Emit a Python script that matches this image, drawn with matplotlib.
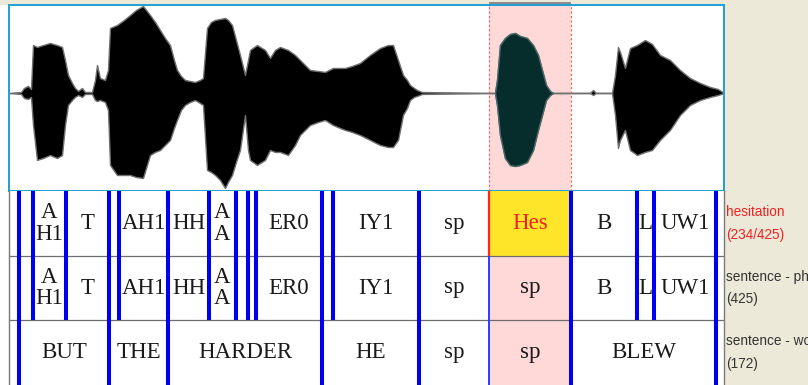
import matplotlib.pyplot as plt
from matplotlib.patches import Rectangle
from matplotlib import transforms

# waveform envelope (seconds, normalised amplitude)
wave_t = [0.000, 0.048, 0.060, 0.076, 0.088, 0.096, 0.112, 0.136, 0.164, 0.192,
          0.212, 0.224, 0.236, 0.252, 0.264, 0.276, 0.292, 0.304, 0.332, 0.344,
          0.352, 0.364, 0.384, 0.396, 0.404, 0.432, 0.460, 0.484, 0.508, 0.536,
          0.564, 0.584, 0.604, 0.624, 0.644, 0.660, 0.672, 0.688, 0.704, 0.724,
          0.744, 0.764, 0.776, 0.792, 0.808, 0.824, 0.844, 0.864, 0.876, 0.892,
          0.908, 0.924, 0.944, 0.956, 0.964, 0.992, 1.024, 1.044, 1.064, 1.084,
          1.116, 1.144, 1.164, 1.184, 1.204, 1.236, 1.264, 1.296, 1.324, 1.344,
          1.372, 1.404, 1.444, 1.484, 1.516, 1.536, 1.556, 1.576, 1.592, 1.604,
          1.620, 1.632, 1.652, 1.944, 1.952, 1.964, 1.984, 2.004, 2.024, 2.044,
          2.072, 2.096, 2.116, 2.132, 2.148, 2.164, 2.176, 2.324, 2.336, 2.348,
          2.412, 2.424, 2.436, 2.444, 2.464, 2.484, 2.512, 2.544, 2.572, 2.604,
          2.644, 2.684, 2.724, 2.764, 2.804, 2.836, 2.860]
wave_hi = [0.000, 0.011, 0.057, 0.080, 0.045, 0.545, 0.523, 0.545, 0.568, 0.545,
           0.523, 0.375, 0.205, 0.114, 0.057, 0.023, 0.057, 0.011, 0.011, 0.148,
           0.318, 0.170, 0.148, 0.261, 0.739, 0.773, 0.830, 0.886, 0.943, 0.989,
           0.886, 0.807, 0.716, 0.625, 0.545, 0.375, 0.261, 0.193, 0.148, 0.136,
           0.125, 0.148, 0.170, 0.739, 0.807, 0.830, 0.841, 0.852, 0.830, 0.773,
           0.602, 0.432, 0.205, 0.375, 0.489, 0.545, 0.489, 0.398, 0.489, 0.523,
           0.489, 0.432, 0.375, 0.318, 0.261, 0.250, 0.239, 0.284, 0.284, 0.284,
           0.307, 0.341, 0.432, 0.511, 0.545, 0.545, 0.375, 0.205, 0.148, 0.091,
           0.057, 0.034, 0.011, 0.000, 0.148, 0.545, 0.625, 0.670, 0.682, 0.648,
           0.625, 0.545, 0.432, 0.261, 0.091, 0.023, 0.000, 0.000, 0.034, 0.000,
           0.000, 0.205, 0.523, 0.466, 0.284, 0.511, 0.545, 0.602, 0.557, 0.432,
           0.375, 0.261, 0.170, 0.114, 0.068, 0.045, 0.000]
wave_lo = [0.000, -0.011, -0.057, -0.068, -0.045, -0.364, -0.761, -0.739, -0.705, -0.739,
           -0.705, -0.364, -0.136, -0.080, -0.045, -0.023, -0.045, -0.011, -0.011, -0.080,
           -0.091, -0.080, -0.102, -0.193, -0.818, -0.932, -0.932, -0.932, -0.955, -0.966,
           -0.705, -0.670, -0.648, -0.591, -0.534, -0.398, -0.307, -0.193, -0.136, -0.102,
           -0.080, -0.114, -0.136, -0.875, -0.898, -0.932, -0.989, -1.080, -1.011, -0.932,
           -0.784, -0.648, -0.250, -0.648, -0.761, -0.818, -0.761, -0.648, -0.670, -0.670,
           -0.705, -0.591, -0.477, -0.420, -0.364, -0.330, -0.307, -0.364, -0.398, -0.420,
           -0.443, -0.477, -0.534, -0.591, -0.614, -0.614, -0.534, -0.250, -0.170, -0.080,
           -0.045, -0.034, -0.011, 0.000, -0.136, -0.477, -0.739, -0.818, -0.830, -0.818,
           -0.784, -0.648, -0.420, -0.250, -0.080, -0.023, 0.000, 0.000, -0.023, 0.000,
           0.000, -0.250, -0.625, -0.534, -0.420, -0.648, -0.705, -0.670, -0.648, -0.534,
           -0.420, -0.250, -0.136, -0.080, -0.045, -0.023, 0.000]
duration = 2.860

# phone segmentation (boundaries in seconds, one label per interval)
phone_bounds = [0.040, 0.096, 0.228, 0.400, 0.440, 0.636, 0.800, 0.908, 0.956,
                0.988, 1.252, 1.296, 1.640, 1.920, 2.248, 2.512, 2.580, 2.828]
phone_labels = ['', 'A\nH1', 'T', '', 'AH1', 'HH', 'A\nA', '', '',
                'ER0', '', 'IY1', 'sp', 'sp', 'B', 'L', 'UW1']

# word segmentation
word_bounds = [0.040, 0.400, 0.636, 1.252, 1.640, 1.920, 2.248, 2.828]
word_labels = ['BUT', 'THE', 'HARDER', 'HE', 'sp', 'sp', 'BLEW']

# selected hesitation interval
hes_start, hes_end = 1.920, 2.248
hes_label = 'Hes'

tier_names = ['hesitation', 'sentence - phone', 'sentence - word']
tier_counts = ['(234/425)', '(425)', '(172)']

W, H = 808, 385
BEIGE = '#ECE9D8'
PINK = '#FFD8D8'
YELLOW = '#FFE52A'
BLUE = '#0000F0'
TEAL = '#1E9FD6'
RED = '#EE2222'

fig = plt.figure(figsize=(W / 100, H / 100), dpi=100, facecolor=BEIGE)
fig.patches.append(Rectangle((0, 0), 9 / W, 380 / H, transform=fig.transFigure,
                             facecolor='white', edgecolor='none', zorder=-5))


def px_axes(left, top, right, bottom):
    return fig.add_axes([left / W, 1 - bottom / H, (right - left) / W, (bottom - top) / H])


# ---- waveform panel ----
ax_w = px_axes(9, 5, 724, 191)
ax_w.set_xlim(0, duration)
ax_w.set_ylim(-1.114, 1.0)
ax_w.axvspan(hes_start, hes_end, color=PINK, lw=0, zorder=0)
ax_w.axvspan(hes_start, hes_end, ymin=1.0, ymax=1.016, color='#8C8C8C', lw=0,
             clip_on=False)
ax_w.axhline(0, color='#3C5A5A', lw=0.8, zorder=1)
ax_w.fill_between(wave_t, wave_lo, wave_hi, color='black', edgecolor='#707070',
                  lw=1.0, zorder=2)
in_sel = [hes_start <= t <= hes_end for t in wave_t]
ax_w.fill_between(wave_t, wave_lo, wave_hi, where=in_sel, color='#062C2C',
                  edgecolor='#4A6868', lw=1.0, zorder=3)
for x in (hes_start, hes_end):
    ax_w.axvline(x, color='#FF5A5A', lw=0.8, ls=(0, (2, 2)), zorder=4)
ax_w.set_xticks([])
ax_w.set_yticks([])
for s in ax_w.spines.values():
    s.set_color(TEAL)
    s.set_linewidth(1.4)

# ---- annotation tiers ----
ax_t = px_axes(9, 191, 724, 385)
ax_t.set_xlim(0, duration)
ax_t.set_ylim(3, 0)
ax_t.axvspan(hes_start, hes_end, color=PINK, lw=0, zorder=0)
ax_t.add_patch(Rectangle((hes_start, 0), hes_end - hes_start, 1,
                         facecolor=YELLOW, edgecolor='none', zorder=1))
for y in (1, 2):
    ax_t.axhline(y, color='#6E6E6E', lw=0.9, zorder=2)

serif = dict(family='Liberation Serif', fontsize=16.5, color='#1A1A1A',
             ha='center', va='center', linespacing=1.05, zorder=5)

# rows 0 and 1: hesitation tier and phone tier share the same intervals
for i, lab in enumerate(phone_labels):
    mid = (phone_bounds[i] + phone_bounds[i + 1]) / 2
    if not lab:
        continue
    top_lab, top_col = lab, '#1A1A1A'
    if phone_bounds[i] == hes_start:
        top_lab, top_col = hes_label, RED
    ax_t.text(mid, 0.5, top_lab, **{**serif, 'color': top_col})
    ax_t.text(mid, 1.5, lab, **serif)

for i, lab in enumerate(word_labels):
    mid = (word_bounds[i] + word_bounds[i + 1]) / 2
    ax_t.text(mid, 2.5, lab, **serif)

# boundary markers: phone boundaries cover rows 0-1, word boundaries all rows
for b in phone_bounds:
    bottom = 3 if b in word_bounds else 2
    if b == hes_start:
        ax_t.vlines(b, 0, 1, color='#FF2A1A', lw=1.6, zorder=4)
        ax_t.vlines(b, 1, bottom, color='#2A3CFF', lw=1.4, zorder=4)
    else:
        ax_t.vlines(b, 0, bottom, color=BLUE, lw=2.9, zorder=4)

ax_t.set_xticks([])
ax_t.set_yticks([])
for side in ('top', 'bottom'):
    ax_t.spines[side].set_visible(False)
for side in ('left', 'right'):
    ax_t.spines[side].set_color('#7A7A7A')
    ax_t.spines[side].set_linewidth(1.0)

# tier names on the right (long names run past the figure edge)
trans = transforms.blended_transform_factory(ax_t.transAxes, ax_t.transData)
for row, (name, count) in enumerate(zip(tier_names, tier_counts)):
    ax_t.text(1.003, row + 0.5, name + '\n' + count, transform=trans,
              family='Liberation Sans', fontsize=9.8, linespacing=1.8,
              color=RED if row == 0 else '#333333', ha='left', va='center',
              clip_on=False)

fig.savefig('out.png', dpi=100, facecolor=BEIGE)
